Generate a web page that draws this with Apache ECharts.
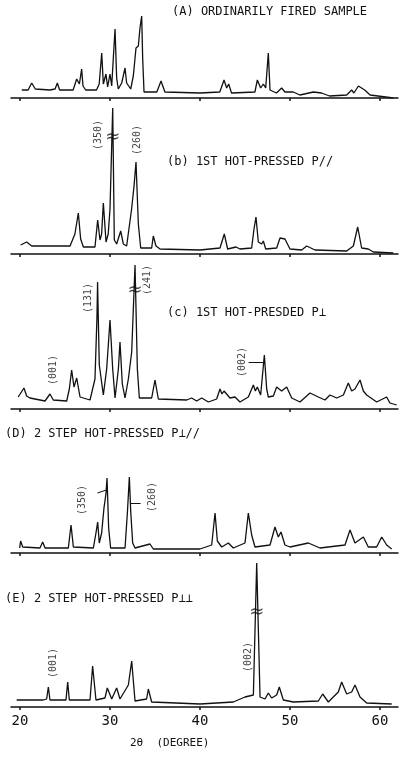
<!DOCTYPE html>
<html>
<head>
<meta charset="utf-8">
<script src="https://cdn.jsdelivr.net/npm/echarts@6/dist/echarts.min.js"></script>
<style>
html, body { margin: 0; padding: 0; background: #fff; }
#main { width: 401px; height: 760px; }
</style>
</head>
<body>
<div id="main"></div>
<script>
// XRD traces: [2θ (deg), intensity above panel axis (arb.)]
var traceA = [
    [20.2,8],[20.9,8],[21.3,15],[21.7,9],[23.3,8],[23.9,9],[24.15,15],[24.4,8],[25.9,8],[26.3,19],[26.6,14],
    [26.85,29],[27.0,12],[27.3,8],[28.5,8],[28.8,14],[29.08,45],[29.26,14],[29.55,24],[29.74,11],[30.0,24],
    [30.19,12],[30.37,40],[30.56,69],[30.74,20],[30.92,9],[31.3,15],[31.67,30],[31.85,15],[32.3,9],[32.59,22],
    [32.89,50],[33.15,52],[33.33,70],[33.52,82],[33.63,40],[33.78,6],[35.2,6],[35.67,17],[36.1,6],[40.0,5],
    [42.2,6],[42.67,18],[42.96,10],[43.19,14],[43.5,5],[46.1,6],[46.37,18],[46.74,10],[47.04,14],[47.3,10],
    [47.59,45],[47.78,8],[48.5,5],[49.07,10],[49.44,6],[50.37,6],[51.1,3],[52.6,6],[53.5,5],[54.4,2],
    [56.3,3],[56.85,8],[57.1,5],[57.6,12],[58.3,8],[58.9,3],[61.5,0]
];
var traceB = [
    [20.07,9],[20.74,12],[21.3,8],[23.33,8],[25.56,8],[26.1,20],[26.48,41],[26.74,15],[27.04,7],[28.33,7],
    [28.63,34],[28.89,14],[29.07,20],[29.26,51],[29.56,12],[29.8,20],[30.0,45],[30.3,146],[30.48,14],[30.74,10],
    [31.19,23],[31.48,10],[31.85,8],[32.4,45],[32.67,68],[32.89,92],[33.15,30],[33.41,6],[34.63,6],[34.81,18],
    [35.11,8],[35.56,5],[40.0,4],[42.22,6],[42.7,20],[43.07,5],[44.0,7],[44.44,5],[45.74,6],[46.0,25],
    [46.22,37],[46.48,12],[46.85,10],[47.04,13],[47.3,5],[48.52,6],[48.89,16],[49.44,15],[50.0,5],[51.3,4],
    [51.85,8],[52.78,4],[56.3,3],[57.04,8],[57.52,27],[57.96,6],[58.7,5],[59.26,2],[61.48,1]
];
var traceC = [
    [19.8,12],[20.44,21],[20.74,13],[21.1,11],[22.78,8],[23.33,15],[23.7,9],[25.19,8],[25.48,20],[25.74,39],
    [26.0,22],[26.3,31],[26.67,12],[27.78,9],[28.33,30],[28.55,91],[28.62,127],[28.7,91],[28.81,44],[28.96,44],
    [29.26,14],[29.63,40],[30.0,89],[30.3,40],[30.56,11],[30.93,40],[31.11,67],[31.37,25],[31.67,11],[32.04,30],
    [32.41,57],[32.78,144],[33.04,40],[33.26,11],[34.63,11],[35.0,29],[35.37,10],[38.52,9],[39.07,11],[39.63,8],
    [40.19,11],[40.93,7],[41.85,10],[42.22,20],[42.44,15],[42.67,18],[43.33,11],[43.89,12],[44.44,7],[45.37,12],
    [45.93,24],[46.15,18],[46.37,22],[46.74,14],[47.15,54],[47.41,20],[47.59,12],[48.15,13],[48.52,22],[49.07,18],
    [49.63,22],[50.19,11],[51.11,7],[52.22,16],[53.15,12],[53.89,9],[54.44,14],[55.19,11],[55.93,14],[56.48,26],
    [56.85,18],[57.22,20],[57.78,29],[58.15,18],[58.52,14],[59.63,7],[60.74,12],[61.1,6],[61.85,4]
];
var traceD = [
    [19.96,5],[20.07,12],[20.3,6],[22.22,5],[22.52,11],[22.78,5],[25.37,5],[25.67,28],[25.93,6],[28.15,5],
    [28.44,20],[28.63,31],[28.81,10],[29.07,20],[29.33,45],[29.56,60],[29.67,75],[29.85,25],[30.07,5],[31.67,5],
    [31.93,40],[32.15,76],[32.3,42],[32.52,10],[32.78,5],[34.44,9],[34.81,4],[40.0,4],[41.3,8],[41.67,40],
    [41.93,12],[42.41,6],[43.15,10],[43.7,5],[45.0,10],[45.37,40],[45.74,18],[46.11,6],[47.78,8],[48.33,26],
    [48.7,16],[49.0,21],[49.44,8],[50.0,6],[52.04,10],[53.33,5],[56.11,8],[56.67,23],[57.22,10],[58.15,16],
    [58.7,6],[59.63,6],[60.19,16],[60.74,8],[61.3,4]
];
var traceE = [
    [19.63,7],[22.59,7],[22.96,8],[23.15,20],[23.33,7],[25.11,7],[25.3,25],[25.48,7],[27.78,7],[28.07,41],
    [28.44,7],[29.44,9],[29.7,19],[30.19,8],[30.74,19],[31.11,8],[32.04,22],[32.41,46],[32.78,6],[34.07,8],
    [34.26,18],[34.63,5],[40.0,3],[43.7,5],[45.0,10],[45.93,12],[46.3,144],[46.67,10],[47.22,8],[47.59,14],
    [47.96,9],[48.52,12],[48.81,20],[49.26,7],[50.37,5],[53.15,6],[53.63,13],[54.26,5],[54.81,10],[55.37,15],
    [55.74,25],[56.3,13],[56.85,15],[57.22,22],[57.78,10],[58.52,4],[61.3,3]
];

// Miller index labels: [2θ, height, text]
var hklB = [[28.67,119,'(350)'],[33.0,114,'(260)']];
var hklC = [[27.56,111,'(131)'],[34.2,129,'(241)'],[23.67,39,'(001)'],[44.67,47,'(002)']];
var hklD = [[26.9,53,'(350)'],[34.67,56,'(260)']];
var hklE = [[23.67,44,'(001)'],[45.33,50,'(002)']];
// axis-break marks on clipped peaks: [2θ, height]
var breaksB = [[30.3,117]];
var breaksC = [[32.78,119]];
var breaksE = [[46.3,95]];
// leader lines: [[2θ1,h1],[2θ2,h2]]
var leadersC = [[[45.4,47],[47.15,47]]];
var leadersD = [[[28.6,60],[29.6,63]],[[32.3,50],[33.4,50]]];

var tickValues = [20, 30, 40, 50, 60];
var panelTitles = [
    '(A) ORDINARILY FIRED SAMPLE',
    '(b) 1ST HOT-PRESSED P//',
    '(c) 1ST HOT-PRESDED P⊥',
    '(D) 2 STEP HOT-PRESSED P⊥//',
    '(E) 2 STEP HOT-PRESSED P⊥⊥'
];
var xTitle = '2θ  (DEGREE)';

var myChart = echarts.init(document.getElementById('main'));
var mono = 'DejaVu Sans Mono';

// panel boxes: top and height (bottom = panel axis line)
var panels = [
    {trace: traceA, hkl: [], breaks: [], leaders: [], top: 8, height: 90},
    {trace: traceB, hkl: hklB, breaks: breaksB, leaders: [], top: 104, height: 150},
    {trace: traceC, hkl: hklC, breaks: breaksC, leaders: leadersC, top: 259, height: 150},
    {trace: traceD, hkl: hklD, breaks: [], leaders: leadersD, top: 473, height: 80},
    {trace: traceE, hkl: hklE, breaks: breaksE, leaders: [], top: 557, height: 150}
];
var titlePos = [[172, 6], [167, 156], [167, 307], [5, 428], [5, 593]];

var grids = [], xAxes = [], yAxes = [], series = [], graphics = [];
panels.forEach(function (p, i) {
    var last = i === panels.length - 1;
    grids.push({left: 11, right: 3, top: p.top, height: p.height});
    xAxes.push({
        type: 'value', gridIndex: i, min: 19, max: 62,
        axisLine: {show: true, onZero: false, lineStyle: {color: '#111', width: 1.5}},
        axisTick: {show: true, customValues: tickValues, length: 3, lineStyle: {color: '#111', width: 1.5}},
        axisLabel: {show: last, customValues: tickValues, color: '#111', fontFamily: mono, fontSize: 14, margin: 7},
        splitLine: {show: false}
    });
    yAxes.push({type: 'value', gridIndex: i, min: 0, max: p.height, show: false, splitLine: {show: false}});
    series.push({
        type: 'line', xAxisIndex: i, yAxisIndex: i, data: p.trace,
        symbol: 'none', silent: true, animation: false,
        lineStyle: {color: '#111', width: 1.3},
        markLine: {
            silent: true, symbol: 'none', animation: false,
            label: {show: false},
            lineStyle: {color: '#111', width: 1, type: 'solid'},
            data: p.leaders.map(function (l) {
                return [{coord: l[0]}, {coord: l[1]}];
            })
        }
    });
    series.push({
        type: 'scatter', xAxisIndex: i, yAxisIndex: i, symbolSize: 0, silent: true, animation: false,
        data: p.hkl.map(function (h) { return {value: [h[0], h[1]], name: h[2]}; }),
        label: {show: true, position: 'inside', rotate: 90, formatter: '{b}',
            color: '#111', fontFamily: mono, fontSize: 10}
    });
    series.push({
        type: 'scatter', xAxisIndex: i, yAxisIndex: i, symbolSize: 0, silent: true, animation: false,
        data: p.breaks,
        label: {show: true, position: 'inside', formatter: '≈', color: '#111',
            fontFamily: 'DejaVu Sans', fontSize: 18, lineHeight: 12,
            backgroundColor: '#fff', padding: [0, 1]}
    });
    graphics.push({
        type: 'text', left: titlePos[i][0], top: titlePos[i][1],
        style: {text: panelTitles[i], fill: '#111', font: '12px "' + mono + '"'}
    });
});
graphics.push({
    type: 'text', left: 130, top: 738,
    style: {text: xTitle, fill: '#111', font: '11px "' + mono + '"'}
});

var option = {
    backgroundColor: '#fff',
    animation: false,
    grid: grids,
    xAxis: xAxes,
    yAxis: yAxes,
    series: series,
    graphic: graphics
};
myChart.setOption(option);
window.addEventListener('resize', function () { myChart.resize(); }, false);
</script>
</body>
</html>
